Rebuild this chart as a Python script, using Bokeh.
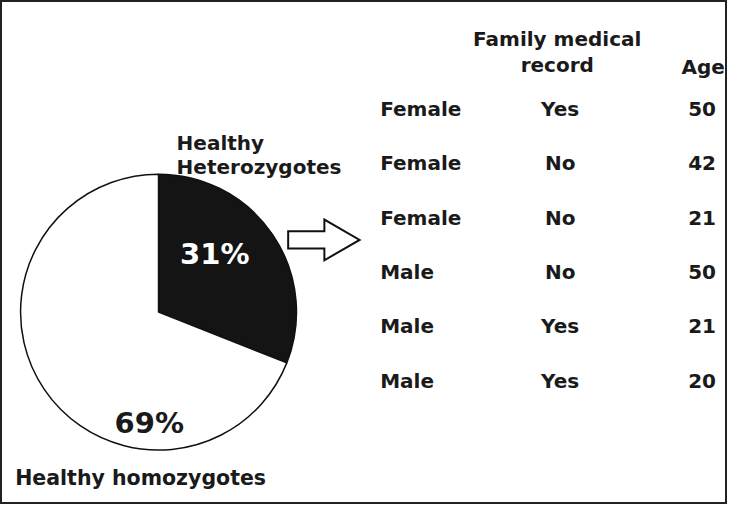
from bokeh.plotting import figure
from bokeh.models import Range1d, ColumnDataSource
from bokeh.core.properties import value
from bokeh.embed import file_html
from bokeh.resources import INLINE

# ---- data ----
pie_labels = ["Healthy Heterozygotes", "Healthy homozygotes"]
pie_shares = [31, 69]
pie_colors = ["#141414", "#ffffff"]

col_headers = ["Family medical record", "Age"]
sexes = ["Female", "Female", "Female", "Male", "Male", "Male"]
family_record = ["Yes", "No", "No", "No", "Yes", "Yes"]
ages = [50, 42, 21, 50, 21, 20]

# ---- layout (reference pixel space, y downward) ----
W, H = 743, 520
CX, CY, R = 161.5, 321.5, 141
FONT = value("DejaVu Sans")
INK = "#1a1a1a"

def fy(py):
    return H - py

p = figure(width=727, height=504, x_range=Range1d(0, W), y_range=Range1d(0, H),
           output_backend="svg", toolbar_location=None, min_border=0,
           x_axis_location=None, y_axis_location=None)
p.grid.visible = False
p.outline_line_color = "#222222"
p.outline_line_width = 3
p.background_fill_color = "white"
p.border_fill_color = "white"

# pie: starts at 12 o'clock, runs clockwise
starts, ends = [], []
cum = 0
for s in pie_shares:
    a0 = 90 - 360 * cum / 100
    cum += s
    a1 = 90 - 360 * cum / 100
    starts.append(a1)
    ends.append(a0)
src = ColumnDataSource(dict(start=starts, end=ends, color=pie_colors, label=pie_labels))
p.wedge(x=CX, y=fy(CY), radius=R, start_angle="start", end_angle="end",
        start_angle_units="deg", end_angle_units="deg",
        direction="anticlock", fill_color="color", line_color="#111111", line_width=1.5,
        source=src)

# percentage labels
pct_pos = [(219, 262, "white"), (152, 436, INK)]
for (x, y, c), s in zip(pct_pos, pie_shares):
    p.text(x=[x], y=[fy(y)], text=[f"{s}%"], text_font=FONT, text_font_style="bold",
           text_font_size="29px", text_align="center", text_baseline="alphabetic",
           text_color=c)

# slice names
het_words = pie_labels[0].split(" ")
p.text(x=[180, 180], y=[fy(147), fy(172)], text=het_words, text_font=FONT,
       text_font_style="bold", text_font_size="20px", text_align="left",
       text_baseline="alphabetic", text_color=INK)
p.text(x=[15], y=[fy(493)], text=[pie_labels[1]], text_font=FONT,
       text_font_style="bold", text_font_size="20.5px", text_align="left",
       text_baseline="alphabetic", text_color=INK)

# arrow
ax = [294, 331, 331, 367, 331, 331, 294]
ay = [238, 238, 226, 247, 268, 256, 256]
p.patch(x=ax, y=[fy(v) for v in ay], fill_color="white", line_color="#111111",
        line_width=2, line_join="miter")

# table headers
fam_words = col_headers[0].rsplit(" ", 1)
p.text(x=[569, 569], y=[fy(40), fy(67)], text=fam_words, text_font=FONT,
       text_font_style="bold", text_font_size="20px", text_align="center",
       text_baseline="alphabetic", text_color=INK)
p.text(x=[696], y=[fy(69)], text=[col_headers[1]], text_font=FONT,
       text_font_style="bold", text_font_size="20px", text_align="left",
       text_baseline="alphabetic", text_color=INK)

# table rows
row_y = [fy(111.5 + i * 56.2) for i in range(len(sexes))]
tsrc = ColumnDataSource(dict(y=row_y, sex=sexes, fam=family_record,
                             age=[str(a) for a in ages]))
common = dict(text_font=FONT, text_font_style="bold", text_font_size="20px",
              text_baseline="alphabetic", text_color=INK, source=tsrc)
p.text(x=388, y="y", text="sex", text_align="left", **common)
p.text(x=572, y="y", text="fam", text_align="center", **common)
p.text(x=717, y="y", text="age", text_align="center", **common)

open("out.html", "w").write(file_html(p, INLINE))
